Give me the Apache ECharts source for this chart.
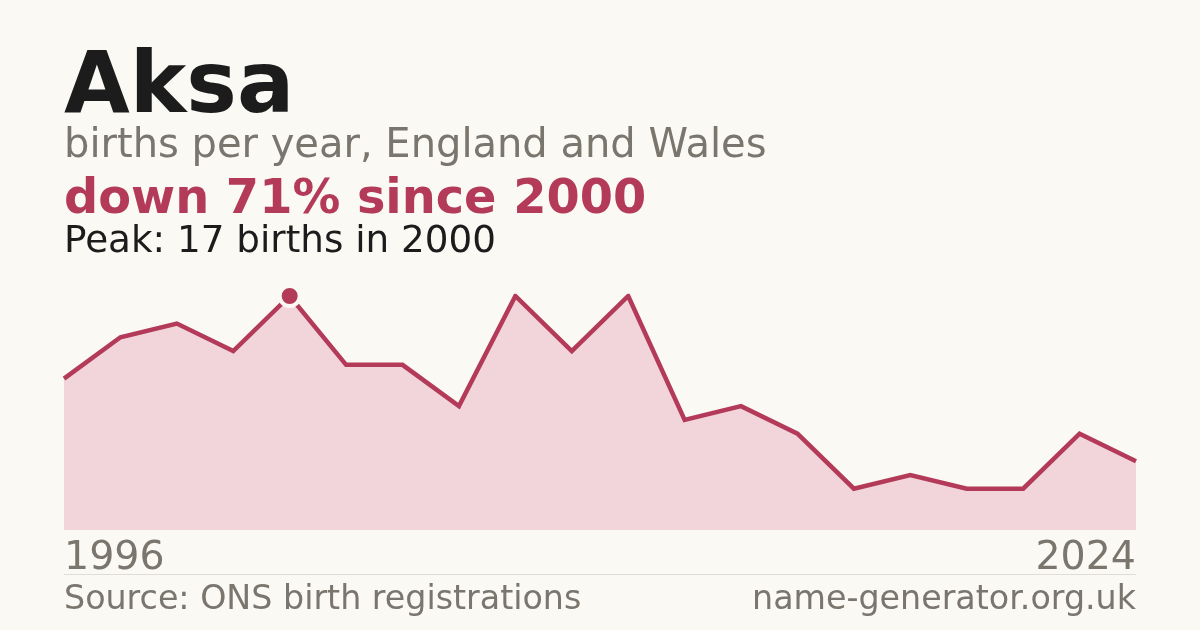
<!DOCTYPE html>
<html>
<head>
<meta charset="utf-8">
<script src="https://cdn.jsdelivr.net/npm/echarts@6/dist/echarts.min.js"></script>
<style>
html,body{margin:0;padding:0;background:#faf9f4;}
#c{width:1200px;height:630px;}
</style>
</head>
<body>
<div id="c"></div>
<script>
const years = ['1996','1997','1998','1999','2000','2001','2003','2004','2006','2007','2009','2011','2012','2014','2016','2017','2019','2021','2023','2024'];
const births = [11,14,15,13,17,12,12,9,17,13,17,8,9,7,3,4,3,3,7,5];

const FONT = 'DejaVu Sans';
const GREY = '#7a756d';
const RED = '#b33a58';

const peakVal = Math.max(...births);
const peakIdx = births.indexOf(peakVal);

const chart = echarts.init(document.getElementById('c'), null, {renderer:'canvas'});
chart.setOption({
  backgroundColor: '#faf9f4',
  animation: false,
  grid: {left: 64, right: 64, top: 296, bottom: 100},
  xAxis: {
    type: 'category',
    data: years,
    boundaryGap: false,
    axisLine: {show: false},
    axisTick: {show: false},
    splitLine: {show: false},
    axisLabel: {
      show: true,
      interval: 0,
      formatter: function (v, i) { return (i === 0 || i === years.length - 1) ? v : ''; },
      fontFamily: FONT,
      fontSize: 39.5,
      color: GREY,
      margin: 9,
      alignMinLabel: 'left',
      alignMaxLabel: 'right'
    }
  },
  yAxis: {
    type: 'value',
    min: 0,
    max: peakVal,
    show: false,
    splitLine: {show: false}
  },
  series: [
    {
      type: 'line',
      data: births,
      showSymbol: false,
      symbol: 'none',
      lineStyle: {color: RED, width: 4.5, join: 'miter'},
      areaStyle: {color: '#f2d5da', opacity: 1},
      z: 2
    },
    {
      type: 'scatter',
      data: [[peakIdx, peakVal]],
      symbol: 'circle',
      symbolSize: 20,
      itemStyle: {color: RED, borderColor: '#faf9f4', borderWidth: 4, opacity: 1},
      z: 5
    }
  ],
  graphic: [
    {type:'text', left: 64, top: 47, style:{text:'Aksa', font:'bold 85px "DejaVu Sans"', fill:'#1c1c1c'}},
    {type:'text', left: 64, top: 127, style:{text:'births per year, England and Wales', font:'40px "DejaVu Sans"', fill:GREY}},
    {type:'text', left: 64, top: 177, style:{text:'down 71% since 2000', font:'bold 47.8px "DejaVu Sans"', fill:RED}},
    {type:'text', left: 64, top: 224, style:{text:'Peak: 17 births in 2000', font:'37.3px "DejaVu Sans"', fill:'#1c1c1c'}},
    {type:'line', shape:{x1:64, y1:574.5, x2:1136, y2:574.5}, style:{stroke:'#e0ddd5', lineWidth:1}},
    {type:'text', left: 64, top: 584, style:{text:'Source: ONS birth registrations', font:'33.3px "DejaVu Sans"', fill:GREY}},
    {type:'text', right: 64, top: 584, style:{text:'name-generator.org.uk', font:'33.3px "DejaVu Sans"', fill:GREY}}
  ]
});
</script>
</body>
</html>
